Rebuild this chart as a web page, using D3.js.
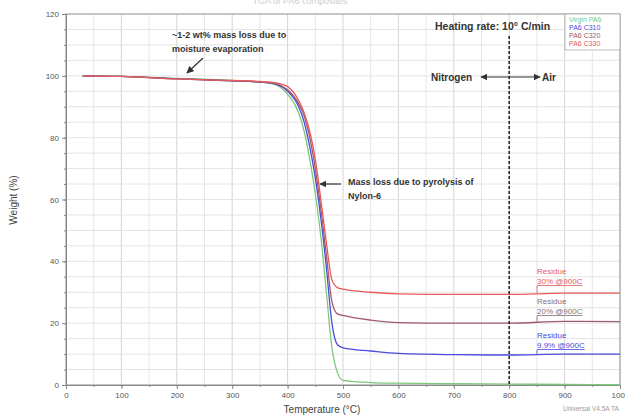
<html lang="en">
<head>
<meta charset="utf-8">
<title>TGA curves</title>
<script src="https://cdn.jsdelivr.net/npm/d3@7"></script>
<style>
  body { margin: 0; background: #fff; }
  text { font-family: "Liberation Sans", Arial, sans-serif; }
</style>
</head>
<body>
<script>
// temperature points (°C) shared by all four curves
var temps = [30, 100, 200, 300, 350, 380, 400, 420, 430, 440, 450, 460, 470, 480, 490, 500, 550, 600, 700, 800, 900, 1000];
var virgin = [100, 99.8, 99.2, 98.5, 98, 97, 94, 88, 82, 73, 62, 48, 30, 12, 4, 1.5, 0.8, 0.6, 0.4, 0.3, 0.2, 0.1];
var c310 = [100, 99.8, 99.1, 98.4, 98, 97.2, 95, 90, 85, 77, 67, 54, 38, 20, 13, 12, 11, 10.2, 9.8, 9.7, 10, 10];
var c320 = [100, 99.8, 99.0, 98.4, 98, 97.4, 95.5, 91, 87, 80, 70, 57, 42, 27, 23, 22.5, 21, 20.2, 20, 20, 20.6, 20.5];
var c330 = [100, 99.8, 99.0, 98.5, 98.2, 97.7, 96.5, 92, 88, 82, 73, 60, 46, 34, 31.5, 31, 30, 29.5, 29.3, 29.3, 29.7, 29.7];

var seriesNames = ["Virgin PA6", "PA6 C310", "PA6 C320", "PA6 C330"];
var seriesColors = ["#7cc87c", "#4b4bdc", "#a05a68", "#e85a5a"];
var xTicks = [0, 100, 200, 300, 400, 500, 600, 700, 800, 900, 1000];
var yTicks = [0, 20, 40, 60, 80, 100, 120];

var w = 625, h = 418;
var svg = d3.select("body").append("svg").attr("width", w).attr("height", h);

var x = d3.scaleLinear().domain([0, 1000]).range([66, 620]);
var y = d3.scaleLinear().domain([0, 120]).range([385, 14]);

// faint title, cut off at the top edge as in the source
svg.append("text").attr("x", 300).attr("y", 4).attr("text-anchor", "middle")
   .attr("font-size", 9).attr("fill", "#ccc").text("TGA of PA6 composites");

// grid
svg.append("g").selectAll("line").data(d3.range(0, 1001, 50)).enter().append("line")
   .attr("x1", function(d){return x(d);}).attr("x2", function(d){return x(d);})
   .attr("y1", y(0)).attr("y2", y(120))
   .attr("stroke", function(d){return d % 100 == 0 ? "#d4d4d4" : "#e6e6e6";}).attr("stroke-width", 1);
svg.append("g").selectAll("line").data(d3.range(0, 121, 5)).enter().append("line")
   .attr("y1", function(d){return y(d);}).attr("y2", function(d){return y(d);})
   .attr("x1", x(0)).attr("x2", x(1000))
   .attr("stroke", "#e4e4e4").attr("stroke-width", 1);

// frame
svg.append("rect").attr("x", x(0)).attr("y", y(120)).attr("width", x(1000) - x(0)).attr("height", y(0) - y(120))
   .attr("fill", "none").attr("stroke", "#999").attr("stroke-width", 1);

// axes
var yAxis = d3.axisLeft(y).tickValues(yTicks).tickSize(4).tickFormat(d3.format("d"));
svg.append("g").attr("transform", "translate(" + x(0) + ",0)").call(yAxis);
var yMinor = d3.axisLeft(y).tickValues(d3.range(0, 121, 5)).tickSize(2).tickFormat("");
svg.append("g").attr("transform", "translate(" + x(0) + ",0)").call(yMinor);
var xAxis = d3.axisBottom(x).tickValues(xTicks).tickSize(4).tickFormat(d3.format("d"));
svg.append("g").attr("transform", "translate(0," + y(0) + ")").call(xAxis);
var xMinor = d3.axisBottom(x).tickValues(d3.range(0, 1001, 50)).tickSize(2).tickFormat("");
svg.append("g").attr("transform", "translate(0," + y(0) + ")").call(xMinor);
svg.selectAll(".domain").attr("stroke", "#888");
svg.selectAll(".tick line").attr("stroke", "#888");
svg.selectAll(".tick text").attr("font-size", 8).attr("fill", "#555")
   .style("font-family", "Liberation Sans, Arial, sans-serif");

svg.append("text").attr("transform", "translate(17,200) rotate(-90)").attr("text-anchor", "middle")
   .attr("font-size", 10).attr("fill", "#444").text("Weight (%)");
svg.append("text").attr("x", 322).attr("y", 413).attr("text-anchor", "middle")
   .attr("font-size", 10).attr("fill", "#444").text("Temperature (°C)");
svg.append("text").attr("x", 563).attr("y", 411).attr("font-size", 6.5).attr("fill", "#999")
   .text("Universal V4.5A TA");

// curves
var allSeries = [virgin, c310, c320, c330];
var line = d3.line().x(function(d){return x(d[0]);}).y(function(d){return y(d[1]);}).curve(d3.curveMonotoneX);
svg.append("g").selectAll("path").data(allSeries).enter().append("path")
   .attr("d", function(s){return line(temps.map(function(t, i){return [t, s[i]];}));})
   .attr("fill", "none")
   .attr("stroke", function(d, i){return seriesColors[i];})
   .attr("stroke-width", 1.3);

// nitrogen / air switch
svg.append("line").attr("x1", x(800)).attr("x2", x(800)).attr("y1", 36).attr("y2", y(0))
   .attr("stroke", "#222").attr("stroke-width", 1.5).attr("stroke-dasharray", "3,2");

var defs = svg.append("defs");
defs.append("marker").attr("id", "ah").attr("viewBox", "0 0 10 10").attr("refX", 9).attr("refY", 5)
   .attr("markerWidth", 6).attr("markerHeight", 6).attr("orient", "auto-start-reverse")
   .append("path").attr("d", "M0,0 L10,5 L0,10 z").attr("fill", "#333");

svg.append("text").attr("x", 435).attr("y", 30).attr("font-size", 10.5).attr("font-weight", "bold")
   .attr("fill", "#333").text("Heating rate: 10° C/min");
svg.append("text").attr("x", 431).attr("y", 81).attr("font-size", 10).attr("font-weight", "bold")
   .attr("fill", "#333").text("Nitrogen");
svg.append("line").attr("x1", 481).attr("x2", 540).attr("y1", 77).attr("y2", 77)
   .attr("stroke", "#333").attr("stroke-width", 1.2)
   .attr("marker-start", "url(#ah)").attr("marker-end", "url(#ah)");
svg.append("text").attr("x", 542).attr("y", 81).attr("font-size", 10).attr("font-weight", "bold")
   .attr("fill", "#333").text("Air");

// annotations
svg.append("text").attr("x", 172).attr("y", 38).attr("font-size", 9).attr("font-weight", "bold")
   .attr("fill", "#333").text("~1-2 wt% mass loss due to");
svg.append("text").attr("x", 172).attr("y", 52).attr("font-size", 9).attr("font-weight", "bold")
   .attr("fill", "#333").text("moisture evaporation");
svg.append("line").attr("x1", 203).attr("y1", 58).attr("x2", 187).attr("y2", 73)
   .attr("stroke", "#333").attr("stroke-width", 1.2).attr("marker-end", "url(#ah)");

svg.append("text").attr("x", 348).attr("y", 185).attr("font-size", 9).attr("font-weight", "bold")
   .attr("fill", "#333").text("Mass loss due to pyrolysis of");
svg.append("text").attr("x", 348).attr("y", 199).attr("font-size", 9).attr("font-weight", "bold")
   .attr("fill", "#333").text("Nylon-6");
svg.append("line").attr("x1", 341).attr("y1", 184).attr("x2", 320).attr("y2", 184)
   .attr("stroke", "#333").attr("stroke-width", 1.2).attr("marker-end", "url(#ah)");

// residue labels
var residueLabels = ["Residue", "Residue", "Residue"];
var residueValues = ["30% @900C", "20% @900C", "9.9% @900C"];
var residueLevels = [29.7, 20.6, 10];
var residueColors = ["#e06060", "#857075", "#4b4bdc"];
var residueTop = [274, 304, 338];
svg.append("g").selectAll("g").data(residueLevels).enter().append("g").each(function(d, i){
  var g = d3.select(this);
  g.append("text").attr("x", 537).attr("y", residueTop[i]).attr("font-size", 8)
   .attr("fill", residueColors[i]).text(residueLabels[i]);
  g.append("text").attr("x", 537).attr("y", residueTop[i] + 10).attr("font-size", 8)
   .attr("fill", residueColors[i]).attr("text-decoration", "underline").text(residueValues[i]);
  g.append("line").attr("x1", 537).attr("x2", 537).attr("y1", residueTop[i] + 12).attr("y2", y(d))
   .attr("stroke", residueColors[i]).attr("stroke-width", 0.8);
});

// legend
var lg = svg.append("g");
lg.append("rect").attr("x", 565).attr("y", 14).attr("width", 55).attr("height", 36)
  .attr("fill", "#fff").attr("stroke", "#aaa").attr("stroke-width", 0.8);
lg.selectAll("text").data(seriesNames).enter().append("text")
  .attr("x", 569).attr("y", function(d, i){return 22 + i * 8;})
  .attr("font-size", 7).attr("fill", function(d, i){return seriesColors[i];})
  .text(function(d){return d;});
</script>
</body>
</html>
